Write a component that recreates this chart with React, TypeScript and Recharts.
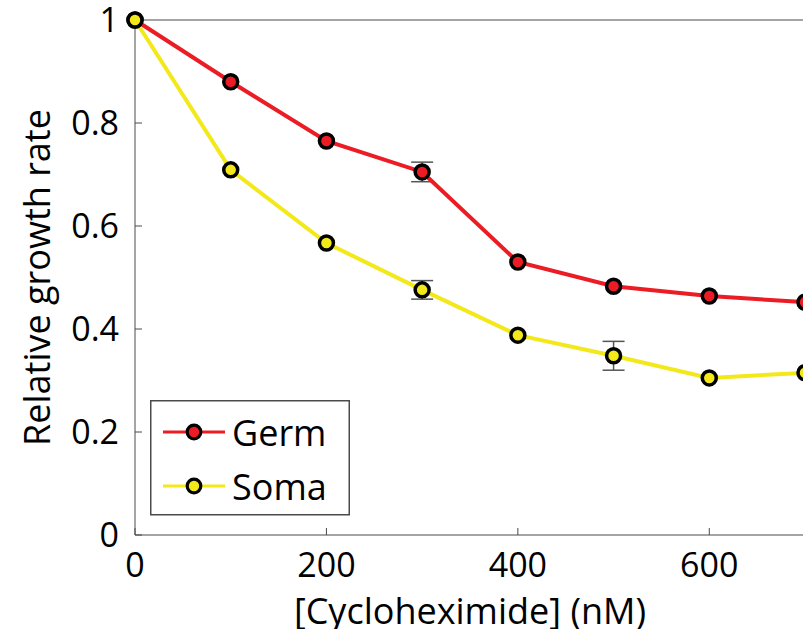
import React from "react";
import { LineChart, Line, XAxis, YAxis, ErrorBar, Legend } from "recharts";

const doses = [0, 100, 200, 300, 400, 500, 600, 700];
const germ = [1.0, 0.88, 0.765, 0.705, 0.53, 0.483, 0.464, 0.452];
const soma = [1.0, 0.709, 0.567, 0.476, 0.388, 0.348, 0.305, 0.315];
const germErr = [0, 0, 0, 0.019, 0, 0, 0, 0];
const somaErr = [0, 0, 0, 0.018, 0, 0.028, 0, 0];
const xTicks = [0, 200, 400, 600];
const yTicks = [0, 0.2, 0.4, 0.6, 0.8, 1];
const seriesNames = ["Germ", "Soma"];

const RED = "#ec1c24";
const YELLOW = "#f3e81a";
const AXIS = "#4a4a4a";
const FONT = "'Open Sans', sans-serif";

const data = doses.map((d, i) => ({
  dose: d,
  germ: germ[i],
  soma: soma[i],
  germErr: germErr[i],
  somaErr: somaErr[i],
}));

const fmtY = (v: number) => (v === 0 || v === 1 ? String(v) : v.toFixed(1));

const LegendBox = (props: any) => {
  const payload = (props && props.payload) || [];
  const items = payload.length
    ? payload.map((p: any) => ({ name: p.value, color: p.color }))
    : [
        { name: seriesNames[0], color: RED },
        { name: seriesNames[1], color: YELLOW },
      ];
  return (
    <svg width={200} height={116} style={{ display: "block" }}>
      <rect x={0.75} y={0.75} width={198.5} height={114} fill="#fff" stroke={AXIS} strokeWidth={1.5} />
      {items.map((it: any, i: number) => {
        const cy = 32 + i * 54;
        return (
          <g key={it.name}>
            <line x1={13} y1={cy} x2={75} y2={cy} stroke={it.color} strokeWidth={3.2} />
            <circle cx={44} cy={cy} r={6.8} fill={it.color} stroke="#000" strokeWidth={3.2} />
            <text x={82} y={cy + 14} fontSize={36} fontFamily={FONT} fill="#000">
              {it.name}
            </text>
          </g>
        );
      })}
    </svg>
  );
};

export default function App() {
  return (
    <div
      style={{
        position: "absolute",
        left: 0,
        top: 0,
        width: 803,
        height: 629,
        overflow: "hidden",
        background: "#fff",
      }}
    >
      <LineChart
        width={840}
        height={629}
        data={data}
        margin={{ top: 19, right: 0, bottom: 0, left: 0 }}
      >
        <XAxis
          xAxisId="b"
          dataKey="dose"
          type="number"
          domain={[0, 700]}
          ticks={xTicks}
          height={94}
          stroke={AXIS}
          tickSize={-7}
          tickMargin={25}
          tick={{ fill: "#000", fontSize: 34, fontFamily: FONT }}
          label={{
            value: "[Cycloheximide] (nM)",
            position: "insideBottom",
            offset: 5,
            fill: "#000",
            fontSize: 36,
            fontFamily: FONT,
          }}
        />
        <XAxis
          xAxisId="t"
          orientation="top"
          dataKey="dose"
          type="number"
          domain={[0, 700]}
          ticks={xTicks}
          height={1}
          stroke={AXIS}
          tickSize={-7}
          tick={false}
        />
        <YAxis
          yAxisId="l"
          type="number"
          domain={[0, 1]}
          ticks={yTicks}
          width={135}
          stroke={AXIS}
          tickSize={-7}
          tickMargin={23}
          tickFormatter={fmtY}
          tick={{ fill: "#000", fontSize: 34, fontFamily: FONT }}
          label={{
            value: "Relative growth rate",
            angle: -90,
            position: "insideLeft",
            offset: 37,
            style: { textAnchor: "middle" },
            fill: "#000",
            fontSize: 36,
            fontFamily: FONT,
          }}
        />
        <YAxis
          yAxisId="r"
          orientation="right"
          type="number"
          domain={[0, 1]}
          ticks={yTicks}
          width={35}
          stroke={AXIS}
          tickSize={-7}
          tick={false}
        />
        <Legend
          layout="horizontal"
          verticalAlign="middle"
          align="center"
          wrapperStyle={{ left: 150, top: 400, width: 200, height: 116 }}
          content={(p: any) => <LegendBox {...p} />}
        />
        <Line
          xAxisId="b"
          yAxisId="l"
          dataKey="germ"
          name={seriesNames[0]}
          stroke={RED}
          strokeWidth={4}
          dot={{ r: 7, fill: RED, stroke: "#000", strokeWidth: 3.5 }}
          isAnimationActive={false}
        >
          <ErrorBar dataKey="germErr" width={11} stroke="#555" strokeWidth={1.5} direction="y" />
        </Line>
        <Line
          xAxisId="b"
          yAxisId="l"
          dataKey="soma"
          name={seriesNames[1]}
          stroke={YELLOW}
          strokeWidth={4}
          dot={{ r: 7, fill: YELLOW, stroke: "#000", strokeWidth: 3.5 }}
          isAnimationActive={false}
        >
          <ErrorBar dataKey="somaErr" width={11} stroke="#555" strokeWidth={1.5} direction="y" />
        </Line>
      </LineChart>
    </div>
  );
}
